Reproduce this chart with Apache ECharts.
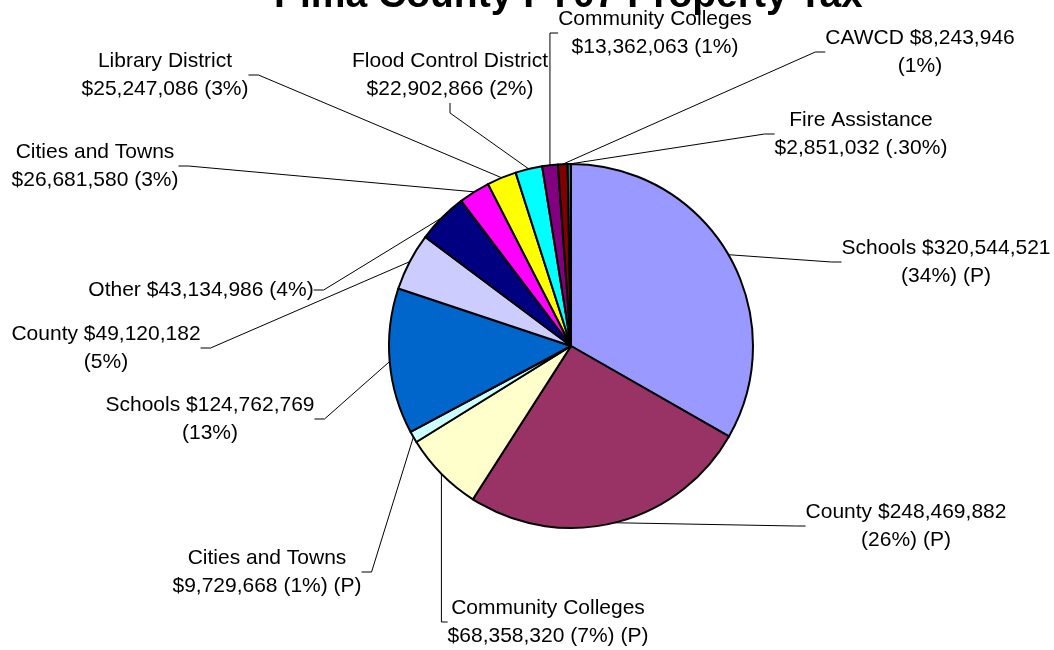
<!DOCTYPE html>
<html>
<head>
<meta charset="utf-8">
<script src="https://cdn.jsdelivr.net/npm/echarts@6/dist/echarts.min.js"></script>
<style>
html,body{margin:0;padding:0;background:#fff;}
#c{width:1054px;height:650px;}
</style>
</head>
<body>
<div id="c"></div>
<script>
const titleText = 'Pima County FY07 Property Tax';
const names = ['Schools','County','Community Colleges','Cities and Towns','Schools','County','Other','Cities and Towns','Library District','Flood Control District','Community Colleges','CAWCD','Fire Assistance'];
const values = [320544521,248469882,68358320,9729668,124762769,49120182,43134986,26681580,25247086,22902866,13362063,8243946,2851032];
const pctText = ['34%','26%','7%','1%','13%','5%','4%','3%','3%','2%','1%','1%','.30%'];
const primary = [true,true,true,true,false,false,false,false,false,false,false,false,false];
// where the label text wraps: 'name' = after the name, 'value' = after the amount, 'none'
const wrapAt = ['value','value','name','name','value','value','none','name','name','name','name','value','name'];
const colors = ['#9999FF','#993366','#FFFFCC','#CCFFFF','#0066CC','#CCCCFF','#000080','#FF00FF','#FFFF00','#00FFFF','#800080','#800000','#008080'];

// label block centres (layout only)
const labelPos = [[946,262],[906,526],[548,622],[267,572],[210,419],[106,348],[201,290],[95,166],[165,75],[450,75],[655,33],[920,52],[861,134]];

function fmt(v){ return '$' + v.toString().replace(/\B(?=(\d{3})+(?!\d))/g, ','); }

const data = names.map((n,i)=>({
  name:n, value:values[i],
  itemStyle:{color:colors[i]}
}));

const chart = echarts.init(document.getElementById('c'), null, {renderer:'canvas'});
chart.setOption({
  animation:false,
  backgroundColor:'#fff',
  title:{
    text:titleText, left:274, top:-23, padding:0,
    textStyle:{fontFamily:'Liberation Sans, Arial, sans-serif', fontWeight:'bold', fontSize:39, color:'#000'}
  },
  series:[{
    type:'pie',
    center:[571,346],
    radius:182,
    startAngle:90,
    clockwise:true,
    avoidLabelOverlap:false,
    itemStyle:{borderColor:'#000', borderWidth:2},
    data:data,
    label:{
      show:true,
      position:'outside',
      fontFamily:'Liberation Sans, Arial, sans-serif',
      fontSize:21,
      lineHeight:28,
      color:'#000',
      align:'center',
      formatter:function(p){
        const i=p.dataIndex;
        const tail='('+pctText[i]+')'+(primary[i]?' (P)':'');
        if(wrapAt[i]==='name') return names[i]+'\n'+fmt(values[i])+' '+tail;
        if(wrapAt[i]==='value') return names[i]+' '+fmt(values[i])+'\n'+tail;
        return names[i]+' '+fmt(values[i])+' '+tail;
      }
    },
    labelLine:{show:true, length:10, length2:10, lineStyle:{color:'#000', width:1}},
    labelLayout:function(p){
      const pos=labelPos[p.dataIndex];
      return {x:pos[0], y:pos[1], align:'center', verticalAlign:'middle'};
    },
    emphasis:{disabled:true}
  }]
});
</script>
</body>
</html>
